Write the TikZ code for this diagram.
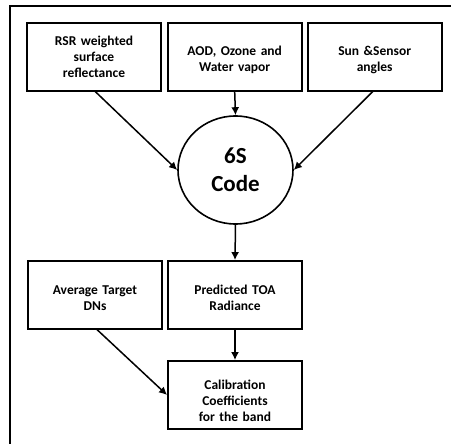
\documentclass[tikz,border=0pt]{standalone}
\usepackage{fontspec}
\setmainfont{Carlito}
\usetikzlibrary{arrows.meta,shapes.geometric}
\newcommand{\dropby}[1]{\rule{0pt}{\dimexpr 10pt+2\dimexpr #1\relax\relax}}
\begin{document}
\begin{tikzpicture}[x=1pt,y=-1pt,
  box/.style={draw, line width=1.9pt, minimum width=134pt, minimum height=68pt, inner sep=0pt,
    align=center, font=\fontsize{13.5}{16}\selectfont\bfseries, text width=124pt},
  conn/.style={line width=1.5pt, -{Latex[length=8pt,width=8pt]}},
  frame/.style={line width=2.6pt}]
\useasboundingbox (0,0) rectangle (451,444);
\draw[frame] (10,444) -- (10,6) -- (451,6);
\node[box] (rsr) at (94,57) {RSR weighted\\surface\\reflectance};
\node[box] (aod) at (234.7,57) {\dropby{3pt}AOD, Ozone and\\Water vapor};
\node[box] (sun) at (374.7,57) {\dropby{3pt}Sun \&Sensor\\angles};
\node[draw, line width=1.6pt, ellipse, minimum width=115pt, minimum height=108pt, inner sep=0pt,
  align=center, font=\fontsize{23}{28}\selectfont\bfseries] (code) at (235.5,170) {6S\\Code};
\node[box] (avg) at (95,295) {\dropby{3pt}Average Target\\DNs};
\node[box] (toa) at (235,295) {\dropby{3pt}Predicted TOA\\Radiance};
\node[box] (cal) at (235,395) {\dropby{6pt}Calibration\\Coefficients\\for the band};
\coordinate (a1) at (95,91.3);
\coordinate (a3) at (373,91.3);
\coordinate (a4) at (96.7,329.3);
\draw[conn] (a1) -- (code.west);
\draw[conn] (a3) -- (code.east);
\draw[conn] (aod.south) -- (code.north);
\draw[conn] (code.south) -- (toa.north);
\draw[conn] (toa.south) -- (cal.north);
\draw[conn] (a4) -- (cal.west);
\end{tikzpicture}
\end{document}
